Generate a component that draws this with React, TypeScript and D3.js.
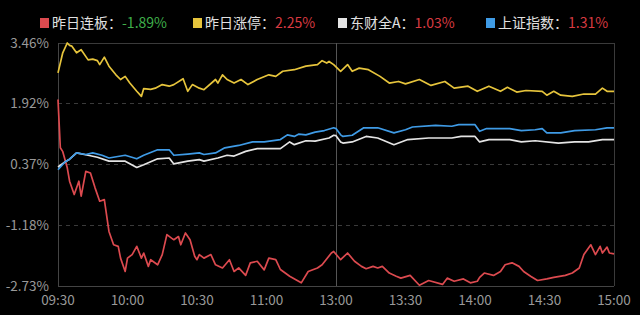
import React from "react";
import * as d3 from "d3";

const yTicks = [3.46, 1.92, 0.37, -1.18, -2.73];
const xTickMinutes = [0, 30, 60, 90, 120, 150, 180, 210, 240];
const xTickLabels = ["09:30", "10:00", "10:30", "11:00", "13:00", "13:30", "14:00", "14:30", "15:00"];

const seriesNames = ["昨日连板", "昨日涨停", "东财全A", "上证指数"];
const seriesLast = ["-1.89%", "2.25%", "1.03%", "1.31%"];

const redPts: [number, number][] = [
  [0, 2.02], [1, 0.79], [2, 0.7], [4, 0.28], [5, -0.06], [7, -0.4], [9, -0.06], [10, -0.44], [12, 0.19], [14, 0.15],
  [16, -0.23], [18, -0.57], [20, -0.53], [22, -1.34], [24, -1.68], [26, -1.72], [27, -2.02], [29, -2.36], [30, -2.02],
  [32, -1.93], [34, -1.72], [36, -2.02], [37, -1.89], [39, -2.23], [40, -2.06], [43, -2.19], [45, -1.93], [47, -1.42],
  [49, -1.51], [50, -1.55], [52, -1.47], [53, -1.68], [55, -1.38], [57, -1.55], [59, -1.97], [60, -2.06], [61, -1.93],
  [63, -2.02], [66, -1.93], [68, -2.19], [71, -2.27], [74, -2.06], [76, -2.36], [78, -2.27], [81, -2.46], [83, -2.14],
  [86, -2.1], [89, -2.32], [91, -2.02], [94, -2.06], [96, -2.31], [100, -2.48], [105, -2.65], [108, -2.36], [112, -2.27],
  [114, -2.19], [118, -1.89], [119, -1.85], [122, -2.06], [125, -1.89], [128, -2.1], [131, -2.23], [133, -2.29],
  [136, -2.23], [138, -2.27], [140, -2.23], [143, -2.4], [146, -2.48], [148, -2.53], [152, -2.46], [156, -2.71],
  [160, -2.59], [166, -2.69], [168, -2.53], [171, -2.61], [175, -2.55], [178, -2.65], [181, -2.61], [182, -2.51],
  [184, -2.4], [188, -2.46], [191, -2.36], [193, -2.19], [196, -2.14], [199, -2.23], [201, -2.36], [204, -2.48],
  [207, -2.59], [211, -2.55], [214, -2.51], [219, -2.46], [222, -2.4], [225, -2.27], [227, -1.93], [230, -1.68],
  [232, -1.93], [234, -1.72], [235, -1.89], [237, -1.74], [238, -1.89], [240, -1.91],
];

const yellowPts: [number, number][] = [
  [0, 2.7], [2, 3.2], [4, 3.46], [5, 3.4], [6, 3.38], [8, 3.21], [10, 3.29], [13, 3.03], [15, 3.05], [17, 3.01],
  [18, 2.91], [20, 3.1], [22, 2.87], [25, 2.65], [27, 2.53], [29, 2.61], [31, 2.44], [34, 2.23], [36, 2.1], [37, 2.3],
  [40, 2.28], [42, 2.31], [45, 2.4], [48, 2.36], [50, 2.4], [54, 2.55], [56, 2.23], [58, 2.4], [61, 2.31], [63, 2.27],
  [68, 2.53], [69, 2.44], [71, 2.65], [73, 2.53], [76, 2.44], [79, 2.53], [82, 2.4], [86, 2.53], [91, 2.65], [94, 2.61],
  [97, 2.74], [102, 2.78], [107, 2.87], [112, 2.91], [114, 3.01], [116, 2.95], [117, 2.99], [119, 2.91], [122, 2.74],
  [125, 2.91], [127, 2.74], [130, 2.82], [134, 2.78], [139, 2.61], [143, 2.44], [147, 2.48], [150, 2.42], [156, 2.53],
  [161, 2.38], [167, 2.48], [171, 2.31], [177, 2.36], [181, 2.23], [186, 2.36], [191, 2.23], [194, 2.33], [198, 2.21],
  [202, 2.25], [209, 2.23], [211, 2.13], [214, 2.23], [217, 2.13], [222, 2.1], [227, 2.16], [232, 2.16], [235, 2.31],
  [237, 2.23], [240, 2.23],
];

const whitePts: [number, number][] = [
  [0, 0.3], [3, 0.43], [5, 0.5], [8, 0.66], [13, 0.6], [17, 0.55], [22, 0.45], [29, 0.45], [34, 0.29], [37, 0.36],
  [43, 0.51], [48, 0.53], [50, 0.38], [56, 0.45], [61, 0.49], [63, 0.45], [69, 0.53], [73, 0.6], [76, 0.58], [81, 0.7],
  [86, 0.77], [96, 0.77], [100, 0.94], [102, 0.87], [107, 0.97], [111, 0.96], [117, 1.04], [119, 1.11], [120, 1.1],
  [122, 0.94], [123, 0.91], [127, 0.94], [133, 1.08], [138, 1.04], [145, 0.87], [151, 1.0], [160, 1.04], [170, 1.04],
  [174, 1.08], [180, 1.08], [182, 0.94], [186, 1.0], [195, 1.0], [200, 0.94], [206, 0.97], [216, 0.91], [223, 0.94],
  [229, 0.94], [235, 1.0], [240, 1.0],
];

const bluePts: [number, number][] = [
  [0, 0.23], [3, 0.43], [5, 0.5], [8, 0.66], [12, 0.62], [15, 0.66], [19, 0.6], [22, 0.53], [29, 0.6], [34, 0.51],
  [37, 0.6], [43, 0.74], [48, 0.74], [50, 0.6], [56, 0.63], [61, 0.66], [63, 0.62], [68, 0.66], [72, 0.79], [78, 0.85],
  [84, 0.94], [89, 0.94], [96, 1.0], [99, 1.12], [102, 1.08], [104, 1.14], [107, 1.12], [111, 1.19], [115, 1.23],
  [119, 1.3], [120, 1.28], [122, 1.12], [123, 1.08], [127, 1.11], [132, 1.3], [138, 1.3], [145, 1.17], [150, 1.25],
  [153, 1.32], [163, 1.36], [170, 1.34], [173, 1.38], [180, 1.38], [182, 1.21], [185, 1.28], [195, 1.28], [200, 1.23],
  [206, 1.25], [209, 1.28], [211, 1.17], [217, 1.17], [223, 1.23], [232, 1.25], [237, 1.3], [240, 1.3],
];

const seriesData = [redPts, yellowPts, whitePts, bluePts];
const seriesColors = ["#dc4a4f", "#e6c43c", "#e4e4e4", "#3f9be6"];
const valueColors = ["#3fae4a", "#d83a40", "#d83a40", "#d83a40"];

const W = 640;
const H = 315;
const L = 58;
const R = 614;
const T = 43;
const B = 286;

export default function App() {
  const x = d3.scaleLinear().domain([0, 240]).range([L, R]);
  const y = d3.scaleLinear().domain([-2.73, 3.46]).range([B, T]);
  const line = d3
    .line<[number, number]>()
    .x((d) => x(d[0]))
    .y((d) => y(d[1]));

  const legendX = [40, 193, 338, 486];
  const font = "'Noto Sans CJK SC', 'Noto Sans', sans-serif";

  return (
    <svg
      width={W}
      height={H}
      style={{ position: "absolute", left: 0, top: 0, background: "#000" }}
    >
      <rect x={0} y={0} width={W} height={H} fill="#000" />
      {yTicks.map((t, i) => {
        const yy = Math.round(y(t)) + 0.5;
        const solid = i === 0 || i === yTicks.length - 1;
        return (
          <line
            key={"g" + i}
            x1={L}
            x2={R}
            y1={yy}
            y2={yy}
            stroke="#3a3a3a"
            strokeDasharray={solid ? undefined : "4,4"}
          />
        );
      })}
      <line x1={L + 0.5} x2={L + 0.5} y1={T} y2={B} stroke="#444" />
      <line x1={R + 0.5} x2={R + 0.5} y1={T} y2={B} stroke="#3a3a3a" />
      <line x1={Math.round(x(120)) + 0.5} x2={Math.round(x(120)) + 0.5} y1={T} y2={B} stroke="#555" />
      <line x1={L} x2={R} y1={B + 0.5} y2={B + 0.5} stroke="#444" />

      {yTicks.map((t, i) => (
        <text
          key={"yl" + i}
          x={49}
          y={y(t)}
          dy="0.35em"
          textAnchor="end"
          fill="#999"
          fontSize={13.5}
          fontFamily={font}
        >
          {t.toFixed(2) + "%"}
        </text>
      ))}
      {xTickMinutes.map((m, i) => (
        <text
          key={"xl" + i}
          x={Math.min(x(m), 618)}
          y={300}
          dy="0.35em"
          textAnchor="middle"
          fill="#999"
          fontSize={13.5}
          fontFamily={font}
        >
          {xTickLabels[i]}
        </text>
      ))}

      {seriesData.map((pts, i) => (
        <path
          key={"s" + i}
          d={line(pts) || ""}
          fill="none"
          stroke={seriesColors[i]}
          strokeWidth={1.7}
          strokeLinejoin="round"
        />
      ))}

      {seriesNames.map((n, i) => (
        <g key={"lg" + i}>
          <rect x={legendX[i]} y={18} width={9} height={10} fill={seriesColors[i]} />
          <text x={legendX[i] + 12} y={28} fontSize={14} fontFamily={font}>
            <tspan fill="#e0e0e0">{n + "："}</tspan>
            <tspan fill={valueColors[i]}>{seriesLast[i]}</tspan>
          </text>
        </g>
      ))}
    </svg>
  );
}
